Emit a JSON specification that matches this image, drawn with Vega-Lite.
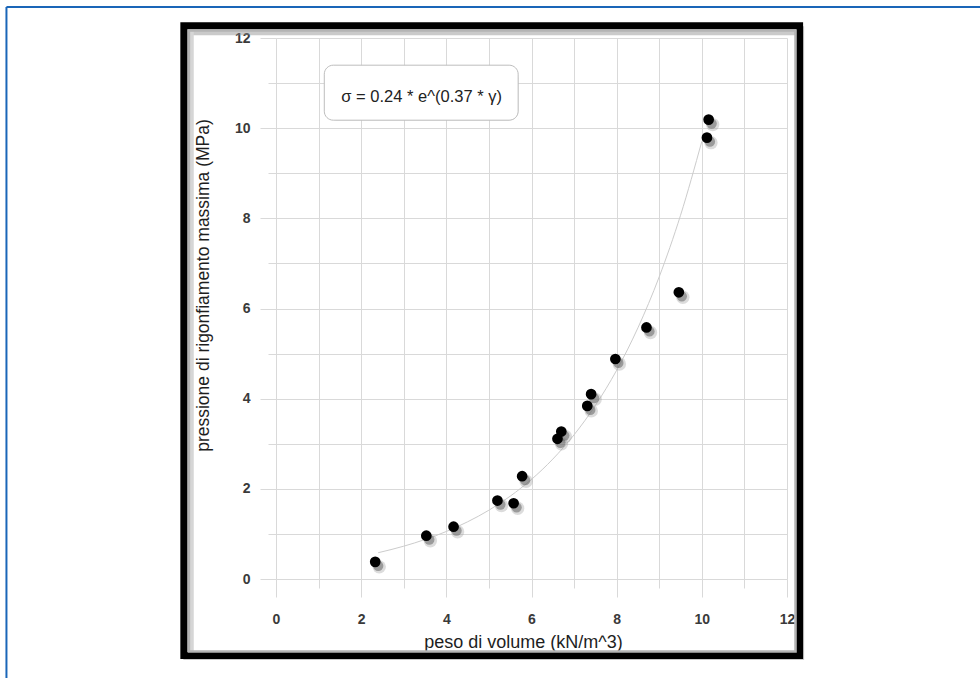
{
  "$schema": "https://vega.github.io/schema/vega-lite/v6.json",
  "width": 511,
  "height": 541,
  "autosize": {"type": "none"},
  "padding": {"left": 276, "top": 38, "right": 193, "bottom": 99},
  "background": "white",
  "config": {
    "view": {"stroke": null},
    "font": "Liberation Sans"
  },
  "datasets": {
    "punti": [
      {"peso": 2.33, "pressione": 0.38},
      {"peso": 3.53, "pressione": 0.96},
      {"peso": 4.17, "pressione": 1.16},
      {"peso": 5.2, "pressione": 1.74},
      {"peso": 5.58, "pressione": 1.68},
      {"peso": 5.78, "pressione": 2.28},
      {"peso": 6.61, "pressione": 3.11},
      {"peso": 6.7, "pressione": 3.27},
      {"peso": 7.31, "pressione": 3.84},
      {"peso": 7.4, "pressione": 4.1},
      {"peso": 7.97, "pressione": 4.88},
      {"peso": 8.7, "pressione": 5.58},
      {"peso": 9.46, "pressione": 6.36},
      {"peso": 10.12, "pressione": 9.79},
      {"peso": 10.16, "pressione": 10.19}
    ],
    "curva": [
      {"peso": 2.4, "pressione": 0.583},
      {"peso": 3.0, "pressione": 0.728},
      {"peso": 3.5, "pressione": 0.876},
      {"peso": 4.0, "pressione": 1.054},
      {"peso": 4.5, "pressione": 1.269},
      {"peso": 5.0, "pressione": 1.526},
      {"peso": 5.5, "pressione": 1.837},
      {"peso": 6.0, "pressione": 2.21},
      {"peso": 6.5, "pressione": 2.659},
      {"peso": 7.0, "pressione": 3.199},
      {"peso": 7.5, "pressione": 3.849},
      {"peso": 8.0, "pressione": 4.631},
      {"peso": 8.5, "pressione": 5.573},
      {"peso": 9.0, "pressione": 6.705},
      {"peso": 9.5, "pressione": 8.068},
      {"peso": 10.0, "pressione": 9.707}
    ],
    "uno": [{}]
  },
  "layer": [
    {
      "data": {"name": "uno"},
      "mark": {"type": "rule", "stroke": "#1a66b8", "strokeWidth": 2},
      "encoding": {
        "x": {"datum": -6.33, "type": "quantitative", "scale": {"domain": [0, 12], "nice": false}},
        "x2": {"datum": 16.7},
        "y": {"datum": 12.69, "type": "quantitative", "scale": {"domain": [0, 12], "nice": false}}
      }
    },
    {
      "data": {"name": "uno"},
      "mark": {"type": "rule", "stroke": "#1a66b8", "strokeWidth": 2},
      "encoding": {
        "x": {"datum": -6.33, "type": "quantitative"},
        "y": {"datum": 12.69, "type": "quantitative"},
        "y2": {"datum": -2.4}
      }
    },
    {
      "data": {"name": "uno"},
      "mark": {"type": "rect", "filled": false, "stroke": "#8a8a8a", "strokeWidth": 9, "strokeOpacity": 0.45, "xOffset": 4, "yOffset": 5},
      "encoding": {
        "x": {"datum": -2.164, "type": "quantitative"},
        "x2": {"datum": 12.296},
        "y": {"datum": 12.273, "type": "quantitative"},
        "y2": {"datum": -1.696}
      }
    },
    {
      "data": {"name": "uno"},
      "mark": {"type": "rect", "filled": false, "stroke": "#000000", "strokeWidth": 7},
      "encoding": {
        "x": {"datum": -2.164, "type": "quantitative"},
        "x2": {"datum": 12.296},
        "y": {"datum": 12.273, "type": "quantitative"},
        "y2": {"datum": -1.696}
      }
    },
    {
      "data": {"name": "uno"},
      "mark": {"type": "rule", "stroke": "#d6d6d6", "strokeWidth": 5},
      "encoding": {
        "x": {"datum": -1.99, "type": "quantitative"},
        "y": {"datum": 12.15, "type": "quantitative"},
        "y2": {"datum": -1.6}
      }
    },
    {
      "data": {"name": "uno"},
      "mark": {"type": "rect", "filled": false, "stroke": "#b4b4b4", "strokeWidth": 2.5},
      "encoding": {
        "x": {"datum": -2.045, "type": "quantitative"},
        "x2": {"datum": 12.2},
        "y": {"datum": 12.166, "type": "quantitative"},
        "y2": {"datum": -1.61}
      }
    },
    {
      "data": {"name": "curva"},
      "mark": {"type": "line", "stroke": "#cccccc", "strokeWidth": 1, "interpolate": "monotone"},
      "encoding": {
        "x": {
          "field": "peso",
          "type": "quantitative",
          "scale": {"domain": [0, 12], "nice": false},
          "axis": {
            "values": [0, 1, 2, 3, 4, 5, 6, 7, 8, 9, 10, 11, 12],
            "labelExpr": "datum.value % 2 === 0 ? datum.label : ''",
            "labelOverlap": false,
            "labelFlush": false,
            "domain": false,
            "grid": true,
            "gridColor": "#d9d9d9",
            "gridWidth": 1,
            "ticks": true,
            "tickColor": "#d9d9d9",
            "tickWidth": 1,
            "tickSize": {"condition": {"test": "datum.value % 2 === 0", "value": 18}, "value": 9},
            "labelPadding": 15,
            "labelFont": "Liberation Sans",
            "labelFontSize": 14,
            "labelFontWeight": "bold",
            "labelColor": "#3a3a3a",
            "title": "peso di volume (kN/m^3)",
            "titleFont": "Liberation Sans",
            "titleFontSize": 18,
            "titleFontWeight": "normal",
            "titleColor": "#1e1e1e",
            "titlePadding": 7,
            "titleX": 247
          }
        },
        "y": {
          "field": "pressione",
          "type": "quantitative",
          "scale": {"domain": [0, 12], "nice": false},
          "axis": {
            "values": [0, 1, 2, 3, 4, 5, 6, 7, 8, 9, 10, 11, 12],
            "labelExpr": "datum.value % 2 === 0 ? datum.label : ''",
            "labelOverlap": false,
            "labelFlush": false,
            "domain": false,
            "grid": true,
            "gridColor": "#d9d9d9",
            "gridWidth": 1,
            "ticks": true,
            "tickColor": "#d9d9d9",
            "tickWidth": 1,
            "tickSize": {"condition": {"test": "datum.value % 2 === 0", "value": 16}, "value": 8},
            "labelPadding": 10,
            "labelFont": "Liberation Sans",
            "labelFontSize": 14,
            "labelFontWeight": "bold",
            "labelColor": "#3a3a3a",
            "title": "pressione di rigonfiamento massima (MPa)",
            "titleFont": "Liberation Sans",
            "titleFontSize": 17.5,
            "titleFontWeight": "normal",
            "titleColor": "#1e1e1e",
            "titlePadding": 22,
            "titleY": 247
          }
        }
      }
    },
    {
      "data": {"name": "punti"},
      "mark": {"type": "point", "filled": true, "fill": "#9a9a9a", "opacity": 0.35, "size": 180, "xOffset": 4, "yOffset": 5},
      "encoding": {
        "x": {"field": "peso", "type": "quantitative"},
        "y": {"field": "pressione", "type": "quantitative"}
      }
    },
    {
      "data": {"name": "punti"},
      "mark": {"type": "point", "filled": true, "fill": "#5a5a5a", "opacity": 0.5, "size": 105, "xOffset": 3, "yOffset": 4},
      "encoding": {
        "x": {"field": "peso", "type": "quantitative"},
        "y": {"field": "pressione", "type": "quantitative"}
      }
    },
    {
      "data": {"name": "punti"},
      "mark": {"type": "point", "filled": true, "fill": "#000000", "opacity": 1, "size": 115},
      "encoding": {
        "x": {"field": "peso", "type": "quantitative"},
        "y": {"field": "pressione", "type": "quantitative"}
      }
    },
    {
      "data": {"name": "uno"},
      "mark": {"type": "rect", "fill": "#7a7a7a", "fillOpacity": 0.5, "cornerRadius": 9, "xOffset": 3, "yOffset": 4},
      "encoding": {
        "x": {"datum": 1.134, "type": "quantitative"},
        "x2": {"datum": 5.687},
        "y": {"datum": 11.397, "type": "quantitative"},
        "y2": {"datum": 10.177}
      }
    },
    {
      "data": {"name": "uno"},
      "mark": {"type": "rect", "fill": "white", "stroke": "#bdbdbd", "strokeWidth": 1, "cornerRadius": 9},
      "encoding": {
        "x": {"datum": 1.134, "type": "quantitative"},
        "x2": {"datum": 5.687},
        "y": {"datum": 11.397, "type": "quantitative"},
        "y2": {"datum": 10.177}
      }
    },
    {
      "data": {"name": "uno"},
      "mark": {"type": "text", "text": "σ = 0.24 * e^(0.37 * γ)", "font": "Liberation Sans", "fontSize": 16.5, "fill": "#222222", "align": "center", "baseline": "middle"},
      "encoding": {
        "x": {"datum": 3.42, "type": "quantitative"},
        "y": {"datum": 10.7, "type": "quantitative"}
      }
    }
  ]
}
